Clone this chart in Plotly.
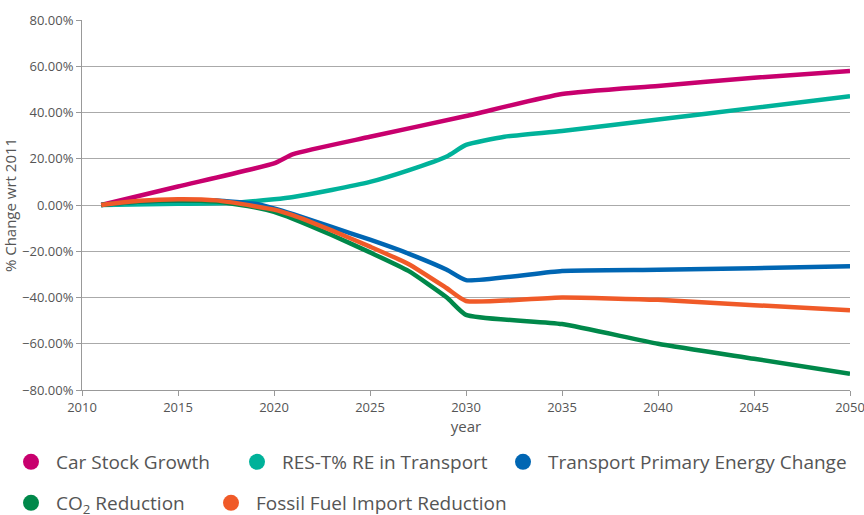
import plotly.graph_objects as go

years_car = [2011, 2015, 2020, 2021, 2025, 2030, 2035, 2040, 2045, 2050]
car_stock = [0, 8, 18, 22, 29.5, 38.5, 48, 51.5, 55, 58]

years_res = [2011, 2015, 2018, 2020, 2021, 2023, 2025, 2027, 2029, 2030, 2032, 2035, 2040, 2045, 2050]
res_t = [0, 0.5, 1, 2.5, 3.5, 6.5, 10, 15, 21, 26, 29.5, 32, 37, 42, 47]

years_neg = [2011, 2013, 2015, 2017, 2019, 2020, 2021, 2023, 2025, 2027, 2029, 2030, 2035, 2040, 2045, 2050]
transport_pe = [0, 1.5, 2, 2, 0.5, -1.5, -4, -9.5, -15, -21, -28, -32.5, -28.5, -28, -27.3, -26.5]
co2 = [0, 1.5, 2, 1.5, -1, -3, -6, -13, -20.5, -28.5, -40, -47.5, -51.5, -60, -66.5, -73]
fossil = [0, 1.8, 2.5, 2, -0.5, -2, -4.5, -11, -18, -25.5, -36, -41.5, -40, -41, -43.3, -45.5]

names = ["Car Stock Growth", "RES-T% RE in Transport", "Transport Primary Energy Change",
         "CO<sub>2</sub> Reduction", "Fossil Fuel Import Reduction"]
colors = ["#C8006E", "#00B29A", "#0066B3", "#00884A", "#F05A28"]

# legend entry placement (container fractions): one legend per entry
legend_ids = ["legend", "legend2", "legend3", "legend4", "legend5"]
legend_x_px = [6, 232, 498, 6, 206]
legend_y_px = [462, 462, 462, 503, 503]

fig = go.Figure()
series = [(years_car, car_stock), (years_res, res_t), (years_neg, transport_pe),
          (years_neg, co2), (years_neg, fossil)]
for i in range(5):
    xs, ys = series[i]
    fig.add_trace(go.Scatter(x=xs, y=ys, mode="lines", showlegend=False,
                             line=dict(color=colors[i], width=4.5, shape="spline", smoothing=0.5),
                             hoverinfo="skip"))
for i in range(5):
    fig.add_trace(go.Scatter(x=[None], y=[None], mode="markers", name=names[i],
                             legend=legend_ids[i],
                             marker=dict(color=colors[i], size=17, symbol="circle")))

W, H = 864, 515
legends = {}
for i, lid in enumerate(legend_ids):
    legends[lid] = dict(orientation="h", xref="container", yref="container",
                        x=legend_x_px[i] / W, y=1 - legend_y_px[i] / H,
                        xanchor="left", yanchor="middle", bgcolor="rgba(0,0,0,0)",
                        font=dict(size=19, color="#555555"), itemwidth=40)

fig.update_layout(
    width=W, height=H,
    margin=dict(l=82, r=14, t=20, b=125, autoexpand=False),
    plot_bgcolor="white", paper_bgcolor="white",
    font=dict(family="Open Sans", color="#555555"),
    xaxis=dict(range=[2010, 2050], dtick=5, tick0=2010, showgrid=False,
               showline=True, linecolor="#999999", linewidth=1,
               ticks="outside", ticklen=5, tickcolor="#999999",
               ticklabeloverflow="allow",
               tickfont=dict(size=13, color="#555555"), automargin=False,
               title=dict(text="year", font=dict(size=15, color="#555555"), standoff=4)),
    yaxis=dict(range=[-80, 80], dtick=20, tickformat=".2f", ticksuffix="%",
               showgrid=True, gridcolor="#AAAAAA", gridwidth=1, zeroline=False,
               showline=True, linecolor="#999999", linewidth=1,
               ticks="outside", ticklen=5, tickcolor="#999999",
               tickfont=dict(size=13, color="#555555"), automargin=False,
               title=dict(text="% Change wrt 2011", font=dict(size=15, color="#555555"), standoff=3)),
    **legends,
)
fig.write_html("out.html", post_script="document.body.style.margin='0';",
               config={"displayModeBar": False})
